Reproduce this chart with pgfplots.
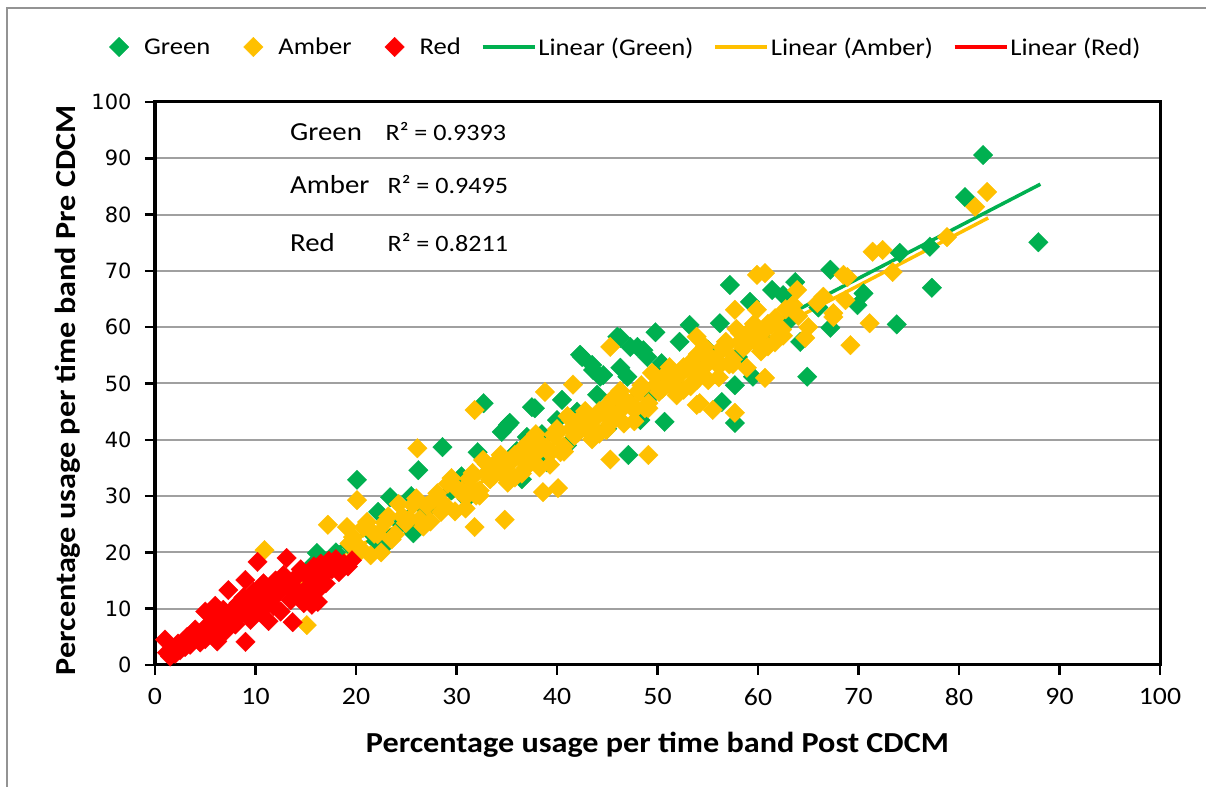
\documentclass[border=0pt]{standalone}
\usepackage{pgfplots}
\pgfplotsset{compat=1.18}
\usepackage{fontspec}
\setmainfont{Carlito}[FakeStretch=1.11]
\newfontfamily\dejavu{DejaVu Sans}
\definecolor{cgreen}{HTML}{00B050}
\definecolor{camber}{HTML}{FFC000}
\definecolor{cred}{HTML}{FF0000}
\definecolor{cgrid}{HTML}{A0A0A0}
\pgfplotsset{
  markleg/.style={legend image code/.code={\path[draw=none,fill=none] (0bp,0bp) -- (46bp,0bp); \draw[mark repeat=2,mark phase=2,##1] plot coordinates {(0bp,0bp) (23bp,0bp) (46bp,0bp)};}},
  lineleg/.style={legend image code/.code={\draw[##1] (0bp,0bp) -- (52bp,0bp);}},
  dia/.style={only marks, color=#1, mark=square*, mark size=6.9bp, mark options={rotate=45, solid, line width=0.3bp, fill=#1, draw=#1}, markleg},
}
\begin{document}
\begin{tikzpicture}
\useasboundingbox (0,0) rectangle (1206bp,787bp);
\draw[color=gray!85, line width=1.5bp] (7bp,-20bp) -- (7bp,779bp) -- (1230bp,779bp);
\begin{axis}[
  at={(155bp,122bp)}, anchor=south west,
  scale only axis, width=1005bp, height=563bp,
  xmin=0, xmax=100, ymin=0, ymax=100,
  xtick={0,10,...,100}, ytick={0,10,...,100},
  xtick pos=left, ytick pos=left, tick align=outside,
  major tick length=10bp,
  tick style={black, line width=2.5bp},
  axis line style={black, line width=3bp},
  ymajorgrids, grid style={draw=cgrid, line width=2bp},
  /pgf/number format/assume math mode=true,
  xticklabel style={font=\fontsize{25bp}{29bp}\selectfont, yshift=-10bp},
  yticklabel style={font=\dejavu\fontsize{21bp}{25bp}\selectfont, xshift=-10bp},
  xlabel={Percentage usage per time band Post CDCM},
  ylabel={Percentage usage per time band Pre CDCM},
  every axis x label/.style={at={(rel axis cs:0.5,0)}, anchor=center, yshift=-80bp, font=\bfseries\fontsize{29bp}{34bp}\selectfont},
  every axis y label/.style={at={(axis description cs:-0.0866,0.488)}, anchor=center, rotate=90, font=\bfseries\fontsize{29bp}{34bp}\selectfont},
  legend style={at={(0.462,1.0977)}, anchor=center, draw=none, fill=none,
    legend columns=6, font=\fontsize{24bp}{28bp}\selectfont,
    /tikz/every odd column/.append style={column sep=0bp},
    /tikz/every even column/.append style={column sep=18bp}},
]
% Green
\addplot[dia=cgreen] coordinates {
(15.5,17.5) (16.1,19.9) (18.0,20.0) (19.5,21.0) (20.1,32.9) (21.2,24.0) (22.0,22.0) (22.6,20.8)
(22.2,27.2) (23.4,22.5) (23.4,29.8) (24.5,25.0) (25.7,23.4) (25.5,30.0) (26.2,34.6) (27.0,27.5)
(28.0,29.0) (28.6,38.7) (29.5,31.0) (30.5,33.5) (31.0,29.5) (32.1,37.8) (32.7,46.5) (33.5,35.0)
(34.5,41.4) (35.3,43.0) (35.1,42.6) (36.0,38.0) (36.5,33.0) (37.0,40.5) (37.5,45.8) (37.8,45.6)
(38.5,41.0) (39.0,36.0) (40.0,43.5) (40.5,47.1) (41.0,39.0) (42.0,45.0) (42.3,55.1) (42.5,54.7)
(43.5,53.3) (43.6,52.4) (44.0,48.0) (44.3,51.2) (44.6,51.5) (45.0,42.0) (46.0,58.3) (46.3,52.8)
(46.3,58.1) (47.0,51.2) (47.1,37.3) (47.3,56.5) (48.0,56.5) (48.3,43.5) (48.6,55.9) (49.0,54.7)
(49.5,48.0) (49.8,59.1) (50.4,53.6) (50.7,43.2) (51.0,52.0) (52.2,57.4) (53.2,60.4) (54.0,52.5)
(55.0,56.0) (56.2,60.7) (56.4,46.7) (57.2,67.5) (57.7,49.7) (57.7,43.0) (58.0,54.7) (59.2,64.5)
(59.5,51.2) (60.5,58.0) (61.4,66.6) (62.5,65.7) (63.0,61.0) (63.7,68.0) (64.2,57.4) (64.9,51.2)
(66.0,63.5) (67.2,70.2) (67.2,59.9) (69.9,63.9) (70.5,66.0) (74.1,73.2) (73.8,60.5) (77.1,74.3)
(77.3,67.0) (80.6,83.1) (82.4,90.6) (87.9,75.1)
};
\addlegendentry{Green}
% Amber
\addplot[dia=camber] coordinates {
(8.2,9.5) (10.9,20.4) (12.0,12.5) (14.0,14.5) (15.1,7.1) (17.2,24.9) (19.1,24.5) (20.1,29.3)
(26.1,38.5) (31.8,45.3) (31.8,24.5) (34.8,25.8) (38.6,30.7) (40.1,31.4) (38.8,48.5) (41.6,49.8)
(45.3,56.5) (45.3,36.5) (49.1,37.3) (53.9,46.2) (55.5,45.3) (57.7,44.8) (59.9,69.3) (60.7,69.6)
(60.7,51.0) (58.9,52.8) (64.7,58.1) (68.9,68.9) (68.5,69.3) (69.2,56.8) (71.1,60.7) (71.4,73.4)
(72.4,73.7) (73.4,69.8) (78.8,76.0) (81.6,81.4) (82.8,84.0)
(63.9,66.6) (65.9,64.3) (67.5,61.8) (66.5,65.4) (67.5,62.5) (68.7,64.8) (64.0,62.0) (65.0,60.0)
(62.5,58.5) (63.5,64.0) (57.7,63.1) (59.9,63.1) (53.9,58.3) (54.2,46.5) (53.9,50.6)
(19.0,17.8) (19.7,22.7) (20.4,20.8) (21.1,25.4) (21.8,23.3) (22.5,20.0) (23.2,26.4) (23.9,23.2)
(24.6,26.4) (25.3,25.9) (26.0,29.6) (26.7,24.6) (27.4,25.5) (28.1,30.5) (28.8,28.5) (29.5,33.2)
(30.2,31.0) (30.9,27.8) (31.6,34.1) (32.3,31.0) (33.0,34.1) (33.7,33.7) (34.4,37.3) (35.1,32.4)
(35.8,33.3) (36.5,38.3) (37.2,36.3) (37.9,41.0) (38.6,38.8) (39.3,35.6) (40.0,41.9) (40.7,38.8)
(41.4,41.9) (42.1,41.4) (42.8,45.1) (43.5,40.1) (44.2,41.1) (44.9,46.0) (45.6,44.1) (46.3,48.7)
(47.0,46.6) (47.7,43.3) (48.4,49.7) (49.1,46.5) (49.8,49.7) (50.5,49.2) (51.2,52.9) (51.9,47.9)
(52.6,48.9) (53.3,53.8) (54.0,51.9) (54.7,56.5) (55.4,54.3) (56.1,51.1) (56.8,57.4) (57.5,54.3)
(58.2,57.4) (58.9,57.0) (59.6,60.6) (60.3,55.7) (61.0,56.6) (61.7,61.6) (62.4,59.6)
(19.35,21.6) (20.05,19.5) (20.75,24.4) (21.45,19.5) (22.15,23.2) (22.85,25.3) (23.55,22.3) (24.25,28.6)
(24.95,25.2) (25.65,28.4) (26.35,25.9) (27.05,28.3) (27.75,29.4) (28.45,27.2) (29.15,32.2) (29.85,27.3)
(30.55,31.0) (31.25,33.1) (31.95,30.1) (32.65,36.4) (33.35,33.0) (34.05,36.2) (34.75,33.6) (35.45,36.1)
(36.15,37.1) (36.85,35.0) (37.55,39.9) (38.25,35.1) (38.95,38.7) (39.65,40.9) (40.35,37.8) (41.05,44.2)
(41.75,40.7) (42.45,44.0) (43.15,41.4) (43.85,43.9) (44.55,44.9) (45.25,42.8) (45.95,47.7) (46.65,42.9)
(47.35,46.5) (48.05,48.6) (48.75,45.6) (49.45,51.9) (50.15,48.5) (50.85,51.7) (51.55,49.2) (52.25,51.6)
(52.95,52.7) (53.65,50.5) (54.35,55.5) (55.05,50.6) (55.75,54.3) (56.45,56.4) (57.15,53.4) (57.85,59.7)
(58.55,56.3) (59.25,59.5) (59.95,57.0) (60.65,59.4) (61.35,60.5) (62.05,58.3) (62.75,63.2)
(30.2,31.1) (30.9,29.8) (31.6,33.4) (32.3,30.1) (33.0,35.7) (33.7,33.6) (34.4,35.0) (35.1,33.7)
(35.8,37.3) (36.5,34.0) (37.2,39.6) (37.9,37.5) (38.6,38.9) (39.3,37.6) (40.0,41.2) (40.7,37.9)
(41.4,43.5) (42.1,41.3) (42.8,42.8) (43.5,41.4) (44.2,45.1) (44.9,41.7) (45.6,47.4) (46.3,45.2)
(47.0,46.7) (47.7,45.3) (48.4,49.0) (49.1,45.6) (49.8,51.3) (50.5,49.1) (51.2,50.6) (51.9,49.2)
(52.6,52.9) (53.3,49.5) (54.0,55.2) (54.7,53.0) (55.4,54.5) (56.1,53.1) (56.8,56.7) (57.5,53.4)
(58.2,59.0) (58.9,56.9) (59.6,58.3) (60.3,57.0) (61.0,60.6) (61.7,57.3)
};
\addlegendentry{Amber}
% Red
\addplot[dia=cred] coordinates {
(1.0,4.5) (1.2,2.2) (1.5,1.5) (1.8,3.0) (2.0,2.0) (2.3,3.8) (2.5,2.6) (2.8,4.2) (3.0,3.2) (3.2,5.0)
(3.5,3.6) (3.8,4.5) (4.0,6.3) (4.2,5.2) (4.5,4.0) (4.8,5.8) (5.0,4.6) (5.0,9.5) (5.2,7.0) (5.5,5.5)
(5.8,8.5) (6.0,6.4) (6.0,10.5) (6.2,4.2) (6.5,7.5) (6.8,9.8) (7.0,6.0) (7.2,8.2) (7.3,13.3) (7.8,10.0)
(8.0,7.2) (8.3,11.0) (8.5,9.0) (8.8,12.0) (9.0,4.1) (9.0,15.1) (9.2,10.5) (9.5,8.0) (9.8,13.0) (10.0,11.0)
(10.2,18.3) (10.5,9.5) (10.8,14.5) (11.0,12.0) (11.3,7.8) (11.5,13.5) (11.8,10.5) (12.0,15.0) (12.3,12.8)
(12.5,9.5) (12.8,16.0) (13.1,19.0) (13.2,14.0) (13.5,11.5) (13.7,7.6) (14.0,15.5) (14.3,13.0) (14.5,17.0)
(14.8,11.0) (15.0,16.0) (15.3,14.0) (15.6,10.7) (15.5,12.2) (15.8,17.5) (16.0,15.0) (16.2,11.2) (16.3,13.5)
(16.5,18.0) (16.8,16.0) (17.0,14.5) (17.3,18.5) (17.6,17.0) (18.0,18.8) (18.3,16.5) (18.8,18.0) (19.2,17.5)
(19.6,18.6)
};
\addlegendentry{Red}
% Trend lines
\addplot[cgreen, line width=3.5bp, no marks, lineleg] coordinates {(15.5,18.3) (88.1,85.4)};
\addlegendentry{Linear (Green)}
\addplot[camber, line width=3.5bp, no marks, lineleg] coordinates {(8.2,9.9) (82.9,79.4)};
\addlegendentry{Linear (Amber)}
\addplot[cred, line width=3.5bp, no marks, lineleg] coordinates {(1.0,2.3) (19.5,18.5)};
\addlegendentry{Linear (Red)}
% annotations
\node[anchor=base west, font=\fontsize{26bp}{30bp}\selectfont] at (axis cs:13.1,93.1) {Green};
\node[anchor=base west, font=\fontsize{23.5bp}{28bp}\selectfont] at (axis cs:22.6,93.1) {R² = 0.9393};
\node[anchor=base west, font=\fontsize{26bp}{30bp}\selectfont] at (axis cs:13.1,83.7) {Amber};
\node[anchor=base west, font=\fontsize{23.5bp}{28bp}\selectfont] at (axis cs:22.8,83.7) {R² = 0.9495};
\node[anchor=base west, font=\fontsize{26bp}{30bp}\selectfont] at (axis cs:13.1,73.5) {Red};
\node[anchor=base west, font=\fontsize{23.5bp}{28bp}\selectfont] at (axis cs:22.8,73.5) {R² = 0.8211};
\end{axis}
\end{tikzpicture}
\end{document}
